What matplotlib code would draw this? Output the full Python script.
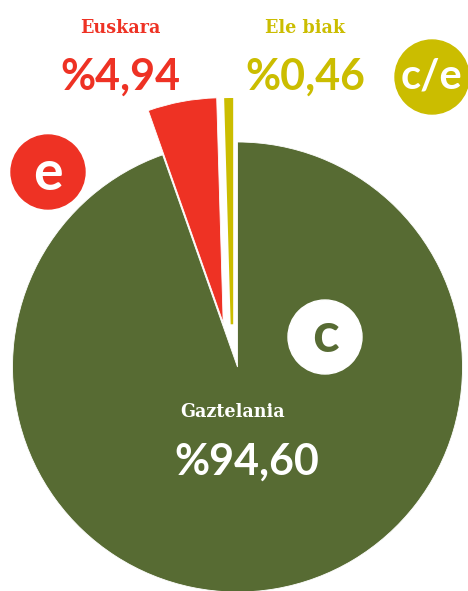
import matplotlib
matplotlib.use("Agg")
import matplotlib.pyplot as plt
from matplotlib.patches import Circle

labels = ["Ele biak", "Euskara", "Gaztelania"]
values = [0.46, 4.94, 94.60]
value_texts = ["%0,46", "%4,94", "%94,60"]
colors = ["#cbbd00", "#ee3224", "#576b33"]
badges = ["c/e", "e", "c"]

# pixel layout of the reference (468x591), pie centre and radius
CX, CY, R = 237.5, 367.0, 225.0


def px(x, y):
    return (x - CX) / R, (CY - y) / R


fig = plt.figure(figsize=(4.68, 5.91), dpi=100)
ax = fig.add_axes([0, 0, 1, 1])

wedges, _ = ax.pie(values, colors=colors, startangle=90, counterclock=True,
                   explode=[0.19, 0.2, 0.0], radius=1.0,
                   wedgeprops=dict(edgecolor="white", linewidth=0.6))
# nudge the small slices a bit to the left like the original
for w, dx in zip(wedges, [-0.022, -0.027, 0.0]):
    cx, cy = w.center
    w.set_center((cx + dx, cy))
# the tiny slice is drawn a bit fatter in the original
wedges[0].set_edgecolor(colors[0])
wedges[0].set_linewidth(1.8)

# pie() sets its own limits, so set ours afterwards
ax.set_xlim(-CX / R, (468 - CX) / R)
ax.set_ylim(-(591 - CY) / R, CY / R)
ax.set_aspect("equal")
ax.axis("off")

num_font = dict(family="Lato", fontweight="bold")
lab_font = dict(family="DejaVu Serif", fontweight="bold", fontstretch="condensed")

# Euskara
ax.text(*px(120, 33), labels[1], color=colors[1], fontsize=14, ha="center", va="baseline", **lab_font)
ax.text(*px(120.5, 90), value_texts[1], color=colors[1], fontsize=31, ha="center", va="baseline", **num_font)
# Ele biak
ax.text(*px(305.5, 33), labels[0], color=colors[0], fontsize=14, ha="center", va="baseline", **lab_font)
ax.text(*px(305.5, 90), value_texts[0], color=colors[0], fontsize=31, ha="center", va="baseline", **num_font)
# Gaztelania
ax.text(*px(232.5, 417), labels[2], color="white", fontsize=14, ha="center", va="baseline", **lab_font)
ax.text(*px(246.5, 475), value_texts[2], color="white", fontsize=31, ha="center", va="baseline", **num_font)

# badges
ax.add_patch(Circle(px(432, 77), 37 / R, color=colors[0], zorder=5))
ax.text(*px(432, 88), badges[0], color="white", fontsize=30, ha="center", va="baseline", zorder=6, **num_font)
ax.add_patch(Circle(px(48, 172), 37 / R, color=colors[1], zorder=5))
ax.text(*px(48, 190), badges[1], color="white", fontsize=40, ha="center", va="baseline", zorder=6, **num_font)
ax.add_patch(Circle(px(325, 337), 37 / R, color="white", zorder=5))
ax.text(*px(325, 352), badges[2], color=colors[2], fontsize=40, ha="center", va="baseline", zorder=6, **num_font)

fig.savefig("out.png", dpi=100)
